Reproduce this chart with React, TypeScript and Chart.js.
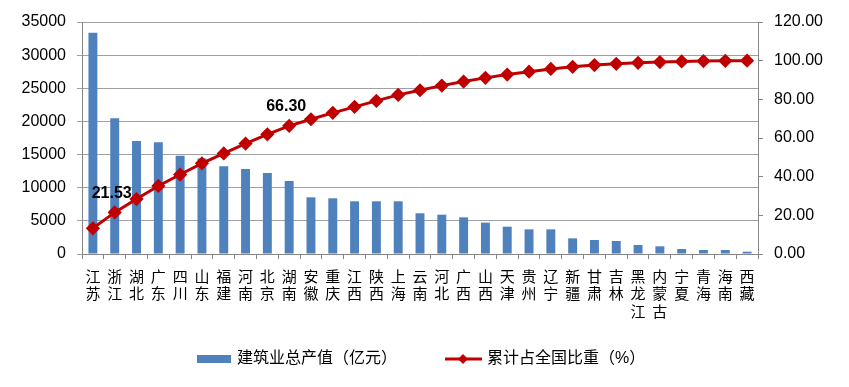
import React, { useEffect, useRef } from "react";
import { Chart, registerables } from "chart.js";

Chart.register(...registerables);

const provinces = ["江苏","浙江","湖北","广东","四川","山东","福建","河南","北京","湖南","安徽","重庆","江西","陕西","上海","云南","河北","广西","山西","天津","贵州","辽宁","新疆","甘肃","吉林","黑龙江","内蒙古","宁夏","青海","海南","西藏"];
const outputValues = [33390,20470,17050,16850,14830,14400,13230,12820,12220,11010,8550,8400,7950,7950,7950,6140,5930,5530,4730,4120,3720,3720,2360,2110,1960,1360,1160,750,600,600,350];
const cumulativeShare = [13.3,21.53,28.4,35.2,41.1,46.9,52.0,57.1,61.9,66.30,69.7,73.0,76.1,79.2,82.3,84.7,87.1,89.2,91.1,92.8,94.3,95.7,96.8,97.7,98.4,98.9,99.3,99.6,99.8,99.95,100.0];
const labeledIndices = [1, 9];
const leftTicks = { min: 0, max: 35000, step: 5000 };
const rightTicks = { min: 0, max: 120, step: 20 };
const barLegend = "建筑业总产值（亿元）";
const lineLegend = "累计占全国比重（%）";

const FONT = '"Liberation Sans", Arial, "Noto Sans CJK SC", sans-serif';
const BLUE = "#4F81BD";
const RED = "#C00000";
const AXIS = "#868686";
const GRID = "#A0A0A0";

export default function App() {
  const ref = useRef<HTMLCanvasElement>(null);
  useEffect(() => {
    if (!ref.current) return;
    const labelPlugin = {
      id: "labelsAndLegend",
      afterDatasetsDraw(chart: any) {
        const ctx = chart.ctx;
        const meta = chart.getDatasetMeta(1);
        ctx.save();
        ctx.font = `bold 16px ${FONT}`;
        ctx.fillStyle = "#000";
        ctx.textAlign = "center";
        ctx.textBaseline = "middle";
        labeledIndices.forEach((i) => {
          const p = meta.data[i];
          ctx.fillText(cumulativeShare[i].toFixed(2), p.x - 3, p.y - 19);
        });
        ctx.restore();
      },
      afterDraw(chart: any) {
        const ctx = chart.ctx;
        ctx.save();
        const y = 359;
        ctx.fillStyle = BLUE;
        ctx.fillRect(197, y - 4, 34, 8);
        ctx.font = `16px ${FONT}`;
        ctx.fillStyle = "#000";
        ctx.textAlign = "left";
        ctx.textBaseline = "middle";
        ctx.fillText(barLegend, 237, y);
        ctx.strokeStyle = RED;
        ctx.lineWidth = 3;
        ctx.beginPath();
        ctx.moveTo(445, y);
        ctx.lineTo(482, y);
        ctx.stroke();
        ctx.fillStyle = RED;
        ctx.beginPath();
        ctx.moveTo(463, y - 5);
        ctx.lineTo(468, y);
        ctx.lineTo(463, y + 5);
        ctx.lineTo(458, y);
        ctx.closePath();
        ctx.fill();
        ctx.fillStyle = "#000";
        ctx.fillText(lineLegend, 487, y);
        ctx.restore();
      },
    };
    const chart = new Chart(ref.current, {
      type: "bar",
      data: {
        labels: provinces.map((p) => p.split("")),
        datasets: [
          {
            type: "bar",
            label: barLegend,
            data: outputValues,
            backgroundColor: BLUE,
            borderWidth: 0,
            barPercentage: 0.41,
            categoryPercentage: 1,
            yAxisID: "y",
            order: 2,
          },
          {
            type: "line",
            label: lineLegend,
            data: cumulativeShare,
            borderColor: RED,
            backgroundColor: RED,
            borderWidth: 3,
            pointStyle: "rectRot",
            pointRadius: 5,
            pointBackgroundColor: RED,
            pointBorderColor: RED,
            yAxisID: "y1",
            order: 1,
          } as any,
        ],
      },
      options: {
        responsive: false,
        animation: false,
        layout: { padding: { top: 22, left: 0, right: 0, bottom: 0 } },
        plugins: { legend: { display: false }, tooltip: { enabled: false } },
        scales: {
          x: {
            offset: true,
            grid: { offset: true, drawOnChartArea: false, drawTicks: true, tickLength: 5, color: AXIS },
            border: { color: AXIS },
            ticks: {
              font: { family: FONT, size: 15, lineHeight: 1.17 },
              color: "#000",
              padding: 10,
              maxRotation: 0,
              autoSkip: false,
            },
            afterFit(scale: any) {
              scale.height = 133;
            },
          },
          y: {
            position: "left",
            min: leftTicks.min,
            max: leftTicks.max,
            grid: { color: GRID, tickLength: 5, lineWidth: 1 },
            border: { color: AXIS },
            ticks: {
              stepSize: leftTicks.step,
              font: { family: FONT, size: 16 },
              color: "#000",
              padding: 11,
              callback: (v: any) => String(v),
            },
            afterFit(scale: any) {
              scale.width = 82;
            },
          },
          y1: {
            position: "right",
            min: rightTicks.min,
            max: rightTicks.max,
            grid: { drawOnChartArea: false, color: AXIS, tickLength: 5 },
            border: { color: AXIS },
            ticks: {
              stepSize: rightTicks.step,
              font: { family: FONT, size: 16 },
              color: "#000",
              padding: 11,
              callback: (v: any) => Number(v).toFixed(2),
            },
            afterFit(scale: any) {
              scale.width = 91;
            },
          },
        },
      },
      plugins: [labelPlugin],
    });
    return () => chart.destroy();
  }, []);
  return (
    <div style={{ position: "absolute", left: 0, top: 0, width: 849, height: 387, background: "#fff" }}>
      <canvas ref={ref} width={849} height={387} />
    </div>
  );
}
